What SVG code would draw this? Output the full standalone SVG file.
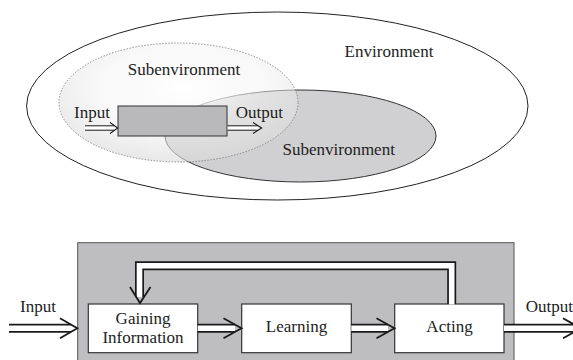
<svg xmlns="http://www.w3.org/2000/svg" width="573" height="360" viewBox="0 0 573 360">
<defs>
<radialGradient id="lg" cx="0.52" cy="0.38" r="0.62">
<stop offset="0" stop-color="#ffffff" stop-opacity="0.92"/>
<stop offset="0.55" stop-color="#f3f3f3" stop-opacity="0.5"/>
<stop offset="1" stop-color="#d9d9d9" stop-opacity="0.62"/>
</radialGradient>
</defs>
<style>
text{font-family:"Liberation Serif","Times New Roman",serif;font-size:17px;fill:#222}
.mid{text-anchor:middle}
.box{fill:#fff;stroke:#333;stroke-width:1.2}
.dlo{fill:none;stroke:#1a1a1a;stroke-width:9;stroke-linejoin:miter}
.dli{fill:none;stroke:#fff;stroke-width:5.6;stroke-linejoin:miter}
.sdo{fill:none;stroke:#1a1a1a;stroke-width:5.4}
.sdi{fill:none;stroke:#fff;stroke-width:3.4}
.hd{fill:none;stroke:#1a1a1a;stroke-width:1.8;stroke-linejoin:miter}
.shd{fill:none;stroke:#1a1a1a;stroke-width:1.1}
</style>
<g id="environment">
<ellipse cx="277.3" cy="106" rx="250.7" ry="94" fill="#fff" stroke="#222" stroke-width="1"/>
<text x="389" y="57" class="mid">Environment</text>
</g>
<g id="subenvironment-2">
<ellipse cx="300.5" cy="136" rx="135.5" ry="46" fill="#d0d0d2" stroke="#333" stroke-width="1"/>
<text x="338.7" y="155" class="mid">Subenvironment</text>
</g>
<g id="subenvironment-1">
<ellipse cx="178.5" cy="102.5" rx="119.5" ry="59.5" fill="url(#lg)" stroke="#777" stroke-width="0.8" stroke-dasharray="1.5 1.5"/>
<text x="184" y="75" class="mid">Subenvironment</text>
</g>
<g id="system">
<rect x="118" y="106" width="109" height="30" fill="#b9b9bb" stroke="#333" stroke-width="1"/>
<text x="74" y="118">Input</text>
<text x="235.7" y="118">Output</text>
</g>
<g id="agent">
<rect x="77.7" y="242.7" width="436.3" height="130" fill="#bebec0" stroke="#555" stroke-width="1"/>
</g>
<g id="gaining-information">
<rect class="box" x="88.3" y="304" width="109.4" height="48.7"/>
<text x="143" y="324" class="mid">Gaining</text>
<text x="143" y="342.7" class="mid">Information</text>
</g>
<g id="learning">
<rect class="box" x="241.7" y="304" width="109.6" height="48.7"/>
<text x="296.5" y="331.7" class="mid">Learning</text>
</g>
<g id="acting">
<rect class="box" x="394.7" y="304" width="109.3" height="48.7"/>
<text x="449.5" y="331.7" class="mid">Acting</text>
</g>
<g id="labels">
<text x="20" y="311.7">Input</text>
<text x="525.7" y="312">Output</text>
</g>
<g id="connectors">
<path class="sdo" d="M85,128 H114"/>
<path class="sdi" d="M85,128 H114"/>
<path class="shd" d="M110,122.5 L117.7,128 L110,133.5"/>
<path class="sdo" d="M227.5,128 H258"/>
<path class="sdi" d="M227.5,128 H258"/>
<path class="shd" d="M253,122.5 L261.7,128 L253,133.5"/>
<path class="dlo" d="M9,328.3 H71"/>
<path class="dli" d="M9,328.3 H71"/>
<path class="hd" d="M60,318.3 L77.3,328.3 L60,338.3"/>
<path class="dlo" d="M197.7,328.3 H235"/>
<path class="dli" d="M197.7,328.3 H235"/>
<path class="hd" d="M223.5,318.3 L241.5,328.3 L223.5,338.3"/>
<path class="dlo" d="M351.3,328.3 H388"/>
<path class="dli" d="M351.3,328.3 H388"/>
<path class="hd" d="M376.5,318.3 L394.5,328.3 L376.5,338.3"/>
<path class="dlo" d="M504,328.3 H575"/>
<path class="dli" d="M504,328.3 H575"/>
<path class="hd" d="M563,318.3 L581,328.3 L563,338.3"/>
<path class="dlo" d="M451.7,304 V265.8 H139.5 V297"/>
<path class="dli" d="M451.7,304.6 V265.8 H139.5 V297"/>
<path class="hd" d="M130,287 L140,303 L150.5,287"/>
</g>
</svg>
